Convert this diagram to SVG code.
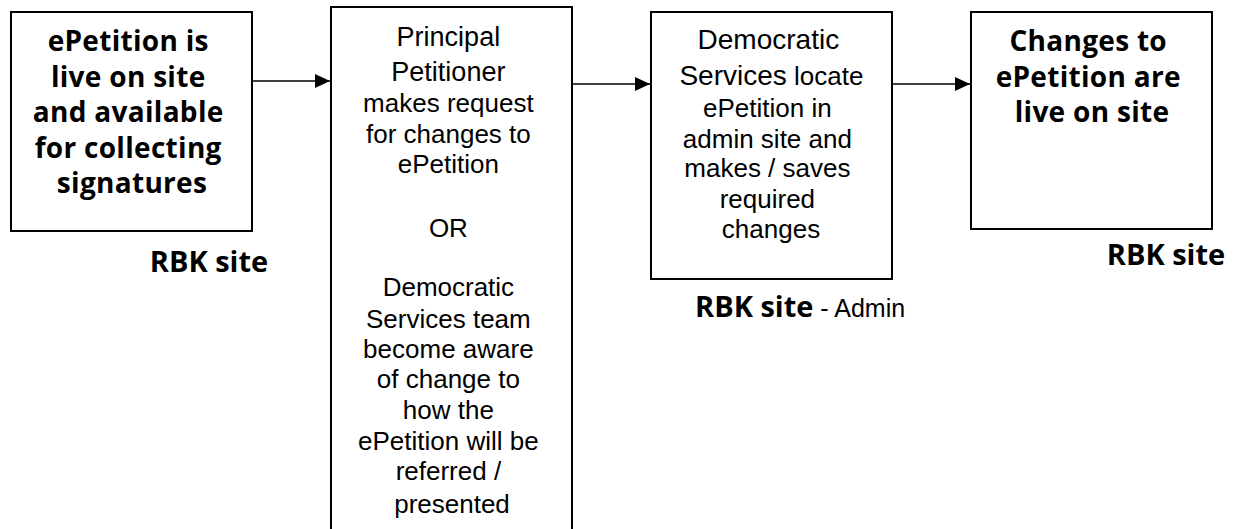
<svg xmlns="http://www.w3.org/2000/svg" width="1234" height="529" viewBox="0 0 1234 529">
  <defs>
    <style>
      .box { fill: #ffffff; stroke: #000000; stroke-width: 2; }
      .link { stroke: #000000; stroke-width: 1.6; fill: none; }
      .bold { font-family: "Open Sans", "Liberation Sans", sans-serif; font-weight: 700; font-size: 28px; letter-spacing: 0.3px; fill: #000000; text-anchor: middle; }
      .body { font-family: "Liberation Sans", Arial, sans-serif; font-size: 26px; fill: #000000; text-anchor: middle; }
      .lead { font-size: 27px; }
      .tag { font-family: "Open Sans", "Liberation Sans", sans-serif; font-weight: 700; font-size: 29px; fill: #000000; }
      .tagnote { font-family: "Liberation Sans", Arial, sans-serif; font-weight: normal; font-size: 25px; }
    </style>
    <marker id="head" viewBox="0 0 15 14" refX="15" refY="7" markerWidth="15" markerHeight="14" markerUnits="userSpaceOnUse" orient="auto">
      <path d="M0,0 L15,7 L0,14 Z" fill="#000000"/>
    </marker>
  </defs>

  <rect width="1234" height="529" fill="#ffffff"/>

  <!-- connectors -->
  <g id="connectors">
    <line class="link" x1="252" y1="81" x2="330" y2="81" marker-end="url(#head)"/>
    <line class="link" x1="572" y1="84" x2="650" y2="84" marker-end="url(#head)"/>
    <line class="link" x1="892" y1="84" x2="970" y2="84" marker-end="url(#head)"/>
  </g>

  <!-- step 1: petition live -->
  <g id="node-live">
    <rect class="box" x="11" y="12" width="241" height="219"/>
    <text class="bold">
      <tspan x="132" y="51">ePetition is</tspan>
      <tspan x="132" y="87">live on site</tspan>
      <tspan x="132" y="122">and available</tspan>
      <tspan x="132" y="158">for collecting</tspan>
      <tspan x="132" y="193">signatures</tspan>
    </text>
    <text class="tag" x="209" y="272" text-anchor="middle">RBK site</text>
  </g>

  <!-- step 2: change request -->
  <g id="node-request">
    <rect class="box" x="331" y="7" width="241" height="560"/>
    <text class="body">
      <tspan class="lead" x="452" y="46">Principal</tspan>
      <tspan class="lead" x="452" y="81">Petitioner</tspan>
      <tspan x="452" y="112">makes request</tspan>
      <tspan x="452" y="143">for changes to</tspan>
      <tspan x="452" y="173">ePetition</tspan>
      <tspan x="452" y="237">OR</tspan>
      <tspan x="452" y="296">Democratic</tspan>
      <tspan x="452" y="328">Services team</tspan>
      <tspan x="452" y="358">become aware</tspan>
      <tspan x="452" y="388">of change to</tspan>
      <tspan x="452" y="419">how the</tspan>
      <tspan x="452" y="450">ePetition will be</tspan>
      <tspan x="452" y="480">referred /</tspan>
      <tspan x="452" y="513">presented</tspan>
    </text>
  </g>

  <!-- step 3: admin edit -->
  <g id="node-admin">
    <rect class="box" x="651" y="12" width="241" height="267"/>
    <text class="body">
      <tspan x="772" y="49" font-size="28">Democratic</tspan>
      <tspan x="775" y="85"><tspan font-size="28">Services</tspan> locate</tspan>
      <tspan x="771" y="117">ePetition in</tspan>
      <tspan x="771" y="148">admin site and</tspan>
      <tspan x="771" y="177">makes / saves</tspan>
      <tspan x="771" y="208">required</tspan>
      <tspan x="771" y="238">changes</tspan>
    </text>
    <text class="tag" x="695" y="317">RBK site<tspan class="tagnote"> - Admin</tspan></text>
  </g>

  <!-- step 4: changes live -->
  <g id="node-published">
    <rect class="box" x="971" y="12" width="241" height="217"/>
    <text class="bold">
      <tspan x="1092" y="51">Changes to</tspan>
      <tspan x="1092" y="87">ePetition are</tspan>
      <tspan x="1092" y="122">live on site</tspan>
    </text>
    <text class="tag" x="1166" y="265" text-anchor="middle">RBK site</text>
  </g>
</svg>
